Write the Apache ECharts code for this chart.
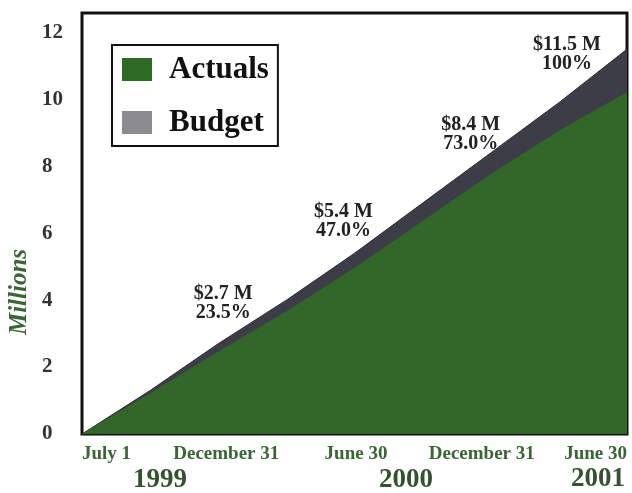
<!DOCTYPE html>
<html>
<head>
<meta charset="utf-8">
<script src="https://cdn.jsdelivr.net/npm/echarts@6/dist/echarts.min.js"></script>
<style>
  html, body { margin: 0; padding: 0; background: #fff; }
  #chart { width: 632px; height: 493px; }
</style>
</head>
<body>
<div id="chart"></div>
<script>
// Months elapsed since July 1, 1999 (fiscal period runs 24 months)
const months = [0, 3, 6, 9, 12, 15, 18, 21, 24];
// Cumulative budget, $ millions
const budget = [0, 1.3, 2.7, 4.0, 5.4, 6.9, 8.4, 9.9, 11.5];
// Cumulative actual spending, $ millions
const actuals = [0, 1.2, 2.45, 3.65, 4.95, 6.35, 7.75, 9.05, 10.2];
// Date labels at the six-month ticks
const tickLabels = ['July 1', 'December 31', 'June 30', 'December 31', 'June 30'];
const years = ['1999', '2000', '2001'];
// Budget milestones that get a "$x M / pct" callout (indexes into the arrays)
const milestones = [2, 4, 6, 8];

const SERIF = '"Liberation Serif", "DejaVu Serif", serif';
const GREEN = '#33672a';
const BAND = '#3d3d48';
const AXIS_GREEN = '#3a6534';
const total = budget[budget.length - 1];
const latestActual = actuals[actuals.length - 1];

function pctText(v) {
  const p = v / total * 100;
  return (Math.abs(p - 100) < 1e-9 ? '100' : p.toFixed(1)) + '%';
}

// Label placement for each milestone callout
const calloutOffsets = { 2: [5, -21], 4: [-11, -13], 6: [-20, 0], 8: [-60, 24] };
// Small horizontal nudges for the date labels (style name per tick)
const tickStyles = ['t0', 't1', 't2', 't3', 't4'];

const budgetData = months.map((m, i) => {
  const item = { value: [m, budget[i]] };
  if (milestones.includes(i)) {
    item.label = { show: true, offset: calloutOffsets[i] };
  }
  return item;
});
const actualData = months.map((m, i) => [m, actuals[i]]);

const yearStyle = { font: 'bold 27px ' + SERIF, fill: '#34522f', align: 'center', verticalAlign: 'middle' };
const tickText = { fontFamily: SERIF, fontSize: 19, fontWeight: 'bold', color: AXIS_GREEN };

const chart = echarts.init(document.getElementById('chart'));
chart.setOption({
  animation: false,
  backgroundColor: '#fff',
  grid: {
    left: 82, right: 5, top: 13, bottom: 59,
    show: true, borderColor: '#111', borderWidth: 3, backgroundColor: 'transparent'
  },
  legend: {
    left: 112, top: 45,
    orient: 'vertical',
    icon: 'rect',
    itemWidth: 30, itemHeight: 23, itemGap: 22,
    padding: [9, 9, 8, 10],
    borderColor: '#111', borderWidth: 2,
    backgroundColor: '#fff',
    textStyle: {
      fontFamily: SERIF, fontSize: 31, fontWeight: 'bold', color: '#111',
      lineHeight: 30, padding: [0, 0, 0, 12]
    },
    data: [
      { name: 'Actuals', itemStyle: { color: '#2f6b27' } },
      { name: 'Budget', itemStyle: { color: '#8b8b90' } }
    ]
  },
  xAxis: {
    type: 'value', min: 0, max: 24, interval: 6,
    axisLine: { show: false }, axisTick: { show: false }, splitLine: { show: false },
    axisLabel: {
      margin: 11,
      fontFamily: SERIF, fontSize: 19, fontWeight: 'bold', color: AXIS_GREEN,
      alignMinLabel: 'left', alignMaxLabel: 'right',
      formatter: v => {
        const i = Math.round(v / 6);
        return tickLabels[i] ? '{' + tickStyles[i] + '|' + tickLabels[i] + '}' : '';
      },
      rich: {
        t0: Object.assign({}, tickText),
        t1: Object.assign({ padding: [0, 0, 0, 16] }, tickText),
        t2: Object.assign({ padding: [0, 0, 0, 3] }, tickText),
        t3: Object.assign({ padding: [0, 18, 0, 0] }, tickText),
        t4: Object.assign({}, tickText)
      }
    }
  },
  yAxis: {
    type: 'value', min: 0, max: 12.58, interval: 2,
    axisLine: { show: false }, axisTick: { show: false }, splitLine: { show: false },
    axisLabel: {
      margin: 40, align: 'left',
      fontFamily: SERIF, fontSize: 21, fontWeight: 'bold', color: '#333',
      formatter: v => (v % 2 === 0 ? String(v) : '')
    }
  },
  series: [
    {
      name: 'Budget', type: 'line', z: 1,
      data: budgetData,
      symbol: 'circle', symbolSize: 0, showSymbol: true,
      lineStyle: { color: '#2a2a33', width: 1 },
      itemStyle: { color: BAND },
      areaStyle: { color: BAND, opacity: 1 },
      label: {
        show: false, position: 'top', distance: 0,
        fontFamily: SERIF, fontSize: 20, fontWeight: 'bold', color: '#222',
        lineHeight: 19, align: 'center',
        formatter: p => '$' + p.value[1].toFixed(1) + ' M\n' + pctText(p.value[1])
      },
      emphasis: { disabled: true }
    },
    {
      name: 'Actuals', type: 'line', z: 2,
      data: actualData,
      symbol: 'none',
      lineStyle: { color: GREEN, width: 1 },
      itemStyle: { color: GREEN },
      areaStyle: { color: GREEN, opacity: 1 },
      emphasis: { disabled: true }
    }
  ],
  graphic: [
    {
      type: 'group', left: 283, top: 337,
      children: [
        { type: 'rect', shape: { x: 0, y: 0, width: 164, height: 82 },
          style: { fill: '#fff', stroke: '#111', lineWidth: 2 } },
        { type: 'text', x: 82, y: 41,
          style: {
            text: '$' + latestActual.toFixed(1) + ' M\nActuals to Date\n' + pctText(latestActual),
            font: 'bold 18px ' + SERIF, fill: '#111', align: 'center', verticalAlign: 'middle',
            lineHeight: 25.5
          } }
      ]
    },
    {
      type: 'text', x: 20, y: 292, rotation: Math.PI / 2,
      style: { text: 'Millions', font: 'italic bold 25px ' + SERIF, fill: AXIS_GREEN, align: 'center', verticalAlign: 'middle' }
    },
    { type: 'text', x: 160, y: 480, style: Object.assign({ text: years[0] }, yearStyle) },
    { type: 'text', x: 406, y: 480, style: Object.assign({ text: years[1] }, yearStyle) },
    { type: 'text', x: 598, y: 479, style: Object.assign({ text: years[2] }, yearStyle) }
  ]
});
</script>
</body>
</html>
